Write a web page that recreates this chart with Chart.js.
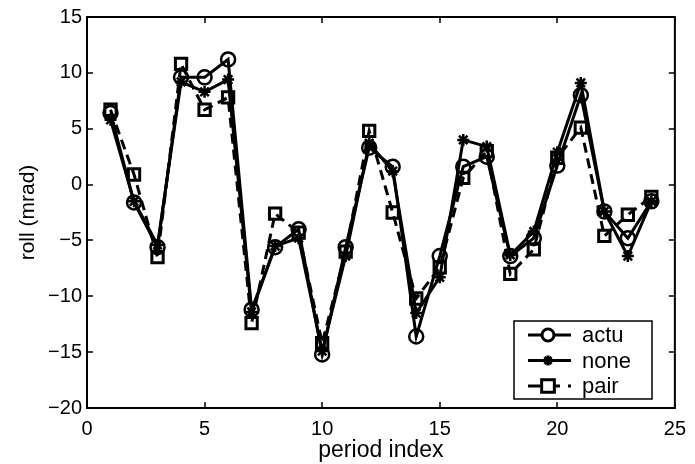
<!DOCTYPE html>
<html>
<head>
<meta charset="utf-8">
<script src="https://cdn.jsdelivr.net/npm/chart.js@4.4.1/dist/chart.umd.min.js"></script>
<style>
  html, body { margin: 0; padding: 0; background: #fff; }
  #wrap { width: 695px; height: 464px; }
</style>
</head>
<body>
<div id="wrap"><canvas id="rollChart" width="695" height="464"></canvas></div>
<script>
// roll per period, three control configurations
const periods = [1, 2, 3, 4, 5, 6, 7, 8, 9, 10, 11, 12, 13, 14, 15, 16, 17, 18, 19, 20, 21, 22, 23, 24];
const actu = [6.4, -1.6, -5.6, 9.6, 9.6, 11.2, -11.2, -5.6, -4.0, -15.2, -5.6, 3.3, 1.6, -13.6, -6.4, 1.6, 2.5, -6.4, -4.8, 1.7, 8.0, -2.4, -4.8, -1.5];
const none = [5.8, -1.5, -5.4, 9.2, 8.3, 9.4, -11.4, -5.5, -4.8, -14.9, -6.4, 3.7, 1.2, -11.5, -8.3, 4.0, 3.4, -6.3, -4.2, 2.9, 9.1, -2.4, -6.4, -1.5];
const pair = [6.7, 0.9, -6.5, 10.8, 6.7, 7.8, -12.4, -2.6, -4.3, -14.2, -6.0, 4.8, -2.5, -10.2, -7.4, 0.6, 3.0, -8.0, -5.8, 2.4, 5.1, -4.6, -2.7, -1.1];
const xTicks = [0, 5, 10, 15, 20, 25];
const yTicks = [-20, -15, -10, -5, 0, 5, 10, 15];

const FONT = 'Liberation Sans, Arial, sans-serif';

function toXY(vals) {
    return vals.map((v, i) => ({ x: periods[i], y: v }));
}

// box around the axes with inward ticks on all four sides
const axesBox = {
    id: 'axesBox',
    afterDatasetsDraw(chart) {
        const { ctx, chartArea: a, scales } = chart;
        ctx.save();
        ctx.strokeStyle = '#000';
        ctx.lineWidth = 2;
        ctx.strokeRect(a.left, a.top, a.right - a.left, a.bottom - a.top);
        const len = 6;
        ctx.lineWidth = 1.5;
        ctx.beginPath();
        xTicks.forEach(t => {
            const px = Math.round(scales.x.getPixelForValue(t));
            ctx.moveTo(px, a.bottom); ctx.lineTo(px, a.bottom - len);
            ctx.moveTo(px, a.top); ctx.lineTo(px, a.top + len);
        });
        yTicks.forEach(t => {
            const py = Math.round(scales.y.getPixelForValue(t));
            ctx.moveTo(a.left, py); ctx.lineTo(a.left + len, py);
            ctx.moveTo(a.right, py); ctx.lineTo(a.right - len, py);
        });
        ctx.stroke();
        ctx.restore();
    }
};

// legend box in the lower right corner
const cornerLegend = {
    id: 'cornerLegend',
    afterDraw(chart) {
        const { ctx } = chart;
        const w = 138, h = 78;
        const x0 = 514, y0 = 321;
        const markerSize = { circle: 6, star: 5, rect: 9 };
        ctx.save();
        ctx.fillStyle = '#fff';
        ctx.fillRect(x0, y0, w, h);
        ctx.strokeStyle = '#000';
        ctx.lineWidth = 1.5;
        ctx.strokeRect(x0, y0, w, h);
        chart.data.datasets.forEach((ds, i) => {
            const cy = y0 + 14 + i * 25.5;
            ctx.strokeStyle = '#000';
            ctx.lineWidth = ds.borderWidth;
            // short sample: longer dashes so it ends on a dot
            ctx.setLineDash(ds.borderDash ? [12, 8] : []);
            ctx.beginPath();
            ctx.moveTo(x0 + 14, cy);
            ctx.lineTo(x0 + 57, cy);
            ctx.stroke();
            ctx.setLineDash([]);
            ctx.fillStyle = '#fff';
            Chart.helpers.drawPoint(ctx, {
                pointStyle: ds.pointStyle,
                radius: markerSize[ds.pointStyle],
                borderWidth: ds.pointBorderWidth,
                rotation: 0
            }, x0 + 34, cy);
            ctx.fillStyle = '#000';
            ctx.font = '22px ' + FONT;
            ctx.textBaseline = 'middle';
            ctx.fillText(ds.label, x0 + 68, cy + 1);
        });
        ctx.restore();
    }
};

const ctx = document.getElementById('rollChart').getContext('2d');

new Chart(ctx, {
    type: 'line',
    data: {
        datasets: [
            {
                label: 'actu',
                data: toXY(actu),
                borderColor: '#000',
                borderWidth: 3,
                pointStyle: 'circle',
                pointRadius: 7,
                pointBorderWidth: 2.5,
                pointBackgroundColor: 'rgba(0,0,0,0)',
                pointBorderColor: '#000'
            },
            {
                label: 'none',
                data: toXY(none),
                borderColor: '#000',
                borderWidth: 3,
                pointStyle: 'star',
                pointRadius: 6,
                pointBorderWidth: 2.5,
                pointBackgroundColor: 'rgba(0,0,0,0)',
                pointBorderColor: '#000'
            },
            {
                label: 'pair',
                data: toXY(pair),
                borderColor: '#000',
                borderWidth: 3,
                borderDash: [10, 6],
                pointStyle: 'rect',
                pointRadius: 8,
                pointBorderWidth: 3,
                pointBackgroundColor: 'rgba(0,0,0,0)',
                pointBorderColor: '#000'
            }
        ]
    },
    options: {
        responsive: false,
        animation: false,
        layout: { padding: { top: 17, right: 12, left: 0, bottom: 0 } },
        plugins: {
            legend: { display: false },
            tooltip: { enabled: false }
        },
        elements: { line: { tension: 0 } },
        scales: {
            x: {
                type: 'linear',
                min: 0,
                max: 25,
                afterBuildTicks(scale) { scale.ticks = xTicks.map(v => ({ value: v })); },
                afterFit(scale) { scale.height = 56; },
                grid: { display: false, drawTicks: false },
                border: { display: false },
                ticks: { color: '#000', padding: 9, font: { family: FONT, size: 20 } },
                title: {
                    display: true,
                    text: 'period index',
                    color: '#000',
                    padding: { top: 0, bottom: 0 },
                    font: { family: FONT, size: 23 }
                }
            },
            y: {
                min: -20,
                max: 15,
                afterBuildTicks(scale) { scale.ticks = yTicks.map(v => ({ value: v })); },
                afterFit(scale) { scale.width = 87; },
                grid: { display: false, drawTicks: false },
                border: { display: false },
                ticks: {
                    color: '#000',
                    padding: 5,
                    font: { family: FONT, size: 20 },
                    callback: v => (v < 0 ? '\u2212' + Math.abs(v) : String(v))
                },
                title: {
                    display: true,
                    text: 'roll (mrad)',
                    color: '#000',
                    padding: { top: 16, bottom: 0 },
                    font: { family: FONT, size: 21 }
                }
            }
        }
    },
    plugins: [axesBox, cornerLegend]
});
</script>
</body>
</html>
